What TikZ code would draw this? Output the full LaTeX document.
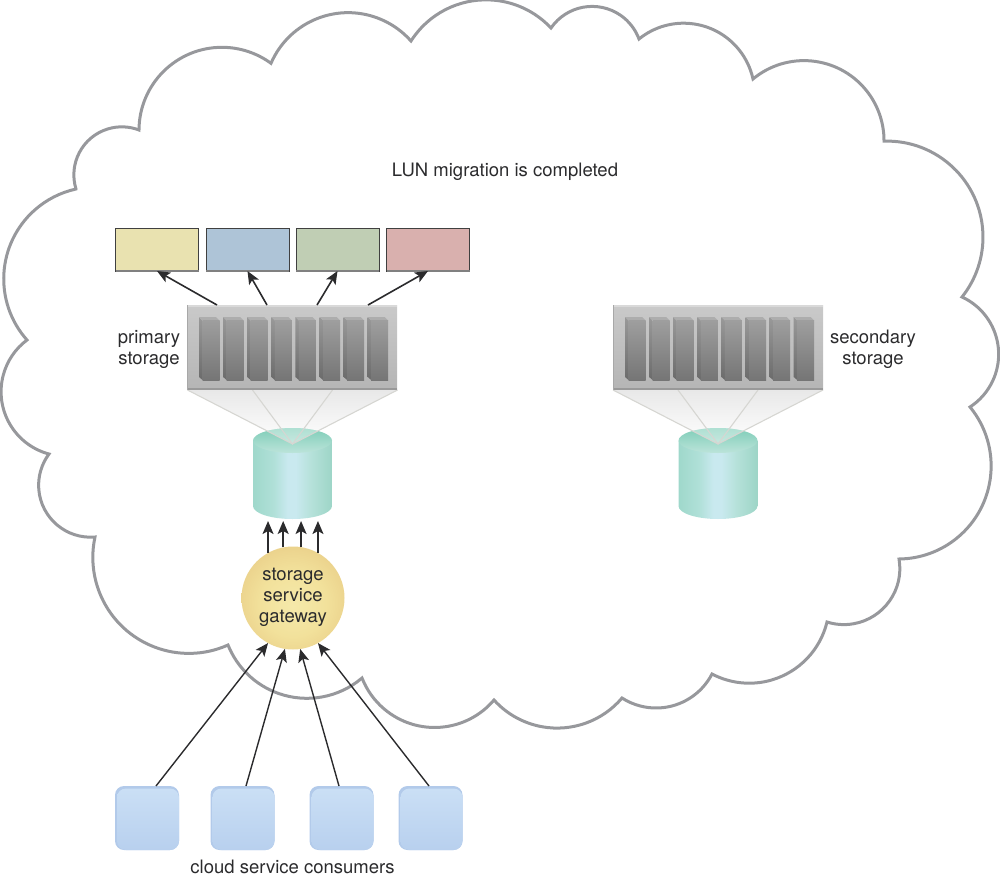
\documentclass[tikz,border=0pt]{standalone}
\usepackage{fontspec}
\setmainfont{TeX Gyre Heros}
\usetikzlibrary{arrows.meta,svg.path,calc}

\definecolor{inkc}{HTML}{2B2B2D}
\definecolor{cloudc}{HTML}{97989C}
\definecolor{veilc}{HTML}{D6D6D2}
\definecolor{cylA}{HTML}{9FD8CB}
\definecolor{cylB}{HTML}{B0E0D8}
\definecolor{cylC}{HTML}{C9E9EF}
\definecolor{cylD}{HTML}{B5E1D9}
\definecolor{cylE}{HTML}{9DD5C7}
\definecolor{capback}{HTML}{7FCDB8}
\definecolor{capfront}{HTML}{BCE4DA}
\definecolor{ballA}{HTML}{F5E9AA}
\definecolor{ballB}{HTML}{F2E19B}
\definecolor{ballC}{HTML}{ECD48E}
\definecolor{ballD}{HTML}{E2C883}

% left-to-right sheen of a disk cylinder
\pgfdeclarehorizontalshading{cylbody}{100bp}{
  color(0bp)=(cylA);color(25bp)=(cylA);color(38bp)=(cylB);color(47bp)=(cylC);
  color(52bp)=(cylC);color(62bp)=(cylD);color(75bp)=(cylE);color(100bp)=(cylE)}
% soft glow of the gateway sphere
\pgfdeclareradialshading{gateball}{\pgfpoint{0bp}{-4bp}}{
  color(0bp)=(ballA);color(16bp)=(ballB);color(26bp)=(ballC);color(33bp)=(ballD);color(50bp)=(ballD)}

\tikzset{
  x=1pt, y=-1pt,
  label text/.style={font=\fontsize{18.5}{21}\selectfont, text=inkc, align=center, inner sep=0pt},
  databox/.style={minimum width=83pt, minimum height=43pt, inner sep=0pt, outer sep=0pt, draw=black!75, line width=.8pt},
  flow/.style={draw=inkc, line width=1.6pt, -{Stealth[length=13pt,width=11pt,inset=3pt]}},
  thin flow/.style={draw=inkc, line width=1.4pt, -{Stealth[length=13pt,width=11pt,inset=3pt]}},
  blockframe/.style={minimum width=210pt, minimum height=84pt, inner sep=0pt, outer sep=0pt},
  consumer/.style={minimum width=64pt, minimum height=64pt, inner sep=0pt, outer sep=0pt},
  veil/.style={draw=veilc, line width=1.1pt},
}

% storage array with eight disk slots; #1 node name, #2 centre x
\newcommand{\storagearray}[2]{
  \begin{scope}[shift={(#2,0)}]
    \node[blockframe, top color=black!21, bottom color=black!29] (#1) at (0,347) {};
    \fill[black!15] (-105,305) rectangle (105,307);
    \fill[black!40] (-105,388) rectangle (105,390);
    \fill[black!34] (-105,305) rectangle (-104,390);
    \foreach \k in {0,...,7}{
      \begin{scope}[shift={(-93+24.1*\k,0)}]
        \shade[top color=black!40, bottom color=black!58] (0,317) -- (3.5,320.5) -- (3.5,380) -- (0,377) -- cycle;
        \fill[black!32] (0,317) -- (17,317) -- (20.5,320.5) -- (3.5,320.5) -- cycle;
        \shade[top color=black!38, bottom color=black!54] (3.5,320.5) rectangle (20.5,380);
      \end{scope}
    }
  \end{scope}
}

% funnel below an array, with the cylinder it feeds; #1 node name, #2 centre x
\newcommand{\diskunit}[2]{
  \begin{scope}[shift={(#2,0)}]
    \shade[top color=black!9, bottom color=white] (-105,390) -- (105,390) -- (0,444) -- cycle;
    \node[minimum width=79pt, minimum height=91pt, inner sep=0pt, outer sep=0pt] (#1) at (0,473.5) {};
    \path[shading=cylbody] (-39.5,440.5) -- (-39.5,506)
      arc[start angle=180, end angle=360, x radius=39.5pt, y radius=13pt]
      -- (39.5,440.5) -- cycle;
    \shade[top color=capback, bottom color=capfront]
      (0,440.5) ellipse[x radius=39.5pt, y radius=12.5pt];
    \begin{scope}
      \clip (0,440.5) ellipse[x radius=39.5pt, y radius=12.5pt];
      \fill[white, opacity=.38] (-105,390) -- (105,390) -- (0,444) -- cycle;
    \end{scope}
    \draw[veil] (-105,390) -- (0,444) -- (105,390);
    \draw[veil] (-40,390) -- (0,444) -- (40,390);
  \end{scope}
}

% consumer tile with bevelled top and left edges; #1 node name, #2 centre x
\newcommand{\consumertile}[2]{
  \node[consumer] (#1) at (#2,818) {};
  \fill[rounded corners=9pt, color={rgb,255:red,178;green,202;blue,234}] (#2-32,786) rectangle (#2+32,850);
  \shade[rounded corners=9pt, top color={rgb,255:red,202;green,223;blue,245}, bottom color={rgb,255:red,184;green,208;blue,238}]
    (#2-30,788.5) rectangle (#2+32,850);
}

\begin{document}
\begin{tikzpicture}
\useasboundingbox (0,0) rectangle (1000,875);

% cloud outline, one arc per lobe, clockwise from the upper left
\draw[cloudc, line width=3pt, line join=miter] svg {
  M 76 -189
  A 48 48 0 0 0 139 -130
  A 83 83 0 0 0 271 -64
  A 84 84 0 0 0 411 -41
  A 89 89 0 0 0 551 -28
  A 50 50 0 0 0 639 -39
  A 71 71 0 0 0 753 -79
  A 80 80 0 0 0 884 -142
  A 96 96 0 0 0 962 -297
  A 63 63 0 0 0 970 -407
  A 93 93 0 0 0 899 -559
  A 56 56 0 0 0 827 -622
  A 80 80 0 0 0 712 -674
  A 63 63 0 0 0 622 -698
  A 85 85 0 0 0 494 -700
  A 78 78 0 0 0 362 -678
  A 85 85 0 0 0 228 -645
  A 96 96 0 0 0 95 -537
  A 52 52 0 0 0 49 -454
  A 64.5 64.5 0 0 0 27 -340
  A 92 92 0 0 0 76 -189 Z};

\node[label text] (title) at (505,172) {LUN migration is completed};

% data blocks on the primary storage
\node[databox, fill={rgb,255:red,233;green,226;blue,176}] (yellowblock) at (157,249.5) {};
\node[databox, fill={rgb,255:red,174;green,196;blue,215}] (blueblock) at (247.5,249.5) {};
\node[databox, fill={rgb,255:red,192;green,206;blue,180}] (greenblock) at (337.5,249.5) {};
\node[databox, fill={rgb,255:red,217;green,176;blue,174}] (redblock) at (428,249.5) {};
\foreach \b in {yellowblock,blueblock,greenblock,redblock}
  \draw[black!50, line width=1.4pt] (\b.south west) -- (\b.south east);

\diskunit{primarydisk}{292.5}
\diskunit{secondarydisk}{718}
\storagearray{primary}{292}
\storagearray{secondary}{718}

\node[label text] (primarylabel) at (149,349) {primary\\storage};
\node[label text] (secondarylabel) at (873,349) {secondary\\storage};

\foreach \s/\b in {-75/yellowblock,-25/blueblock,25/greenblock,76/redblock}
  \draw[flow] ([xshift=\s pt]primary.north) -- (\b.south);

% gateway
\node[circle, minimum size=103pt, inner sep=0pt, outer sep=0pt, shading=gateball] (gateway) at (293,598) {};
\node[label text] (gatewaylabel) at (293,597) {storage\\service\\gateway};

\foreach \a in {119,101,81,61}
  \draw[flow, shorten >=2pt] (gateway.\a) -- (gateway.\a |- primarydisk.south);

% consumers
\consumertile{consumerA}{147}
\consumertile{consumerB}{242.5}
\consumertile{consumerC}{341.5}
\consumertile{consumerD}{430.5}

\draw[thin flow] ([xshift=9pt]consumerA.north) -- (gateway.241);
\draw[thin flow] ([xshift=3.5pt]consumerB.north) -- (gateway.261);
\draw[thin flow] ([xshift=-2.5pt]consumerC.north) -- (gateway.278);
\draw[thin flow] ([xshift=-1.5pt]consumerD.north) -- (gateway.299);

\node[label text, anchor=base] (consumerlabel) at (292.5,873) {cloud service consumers};
\end{tikzpicture}
\end{document}
